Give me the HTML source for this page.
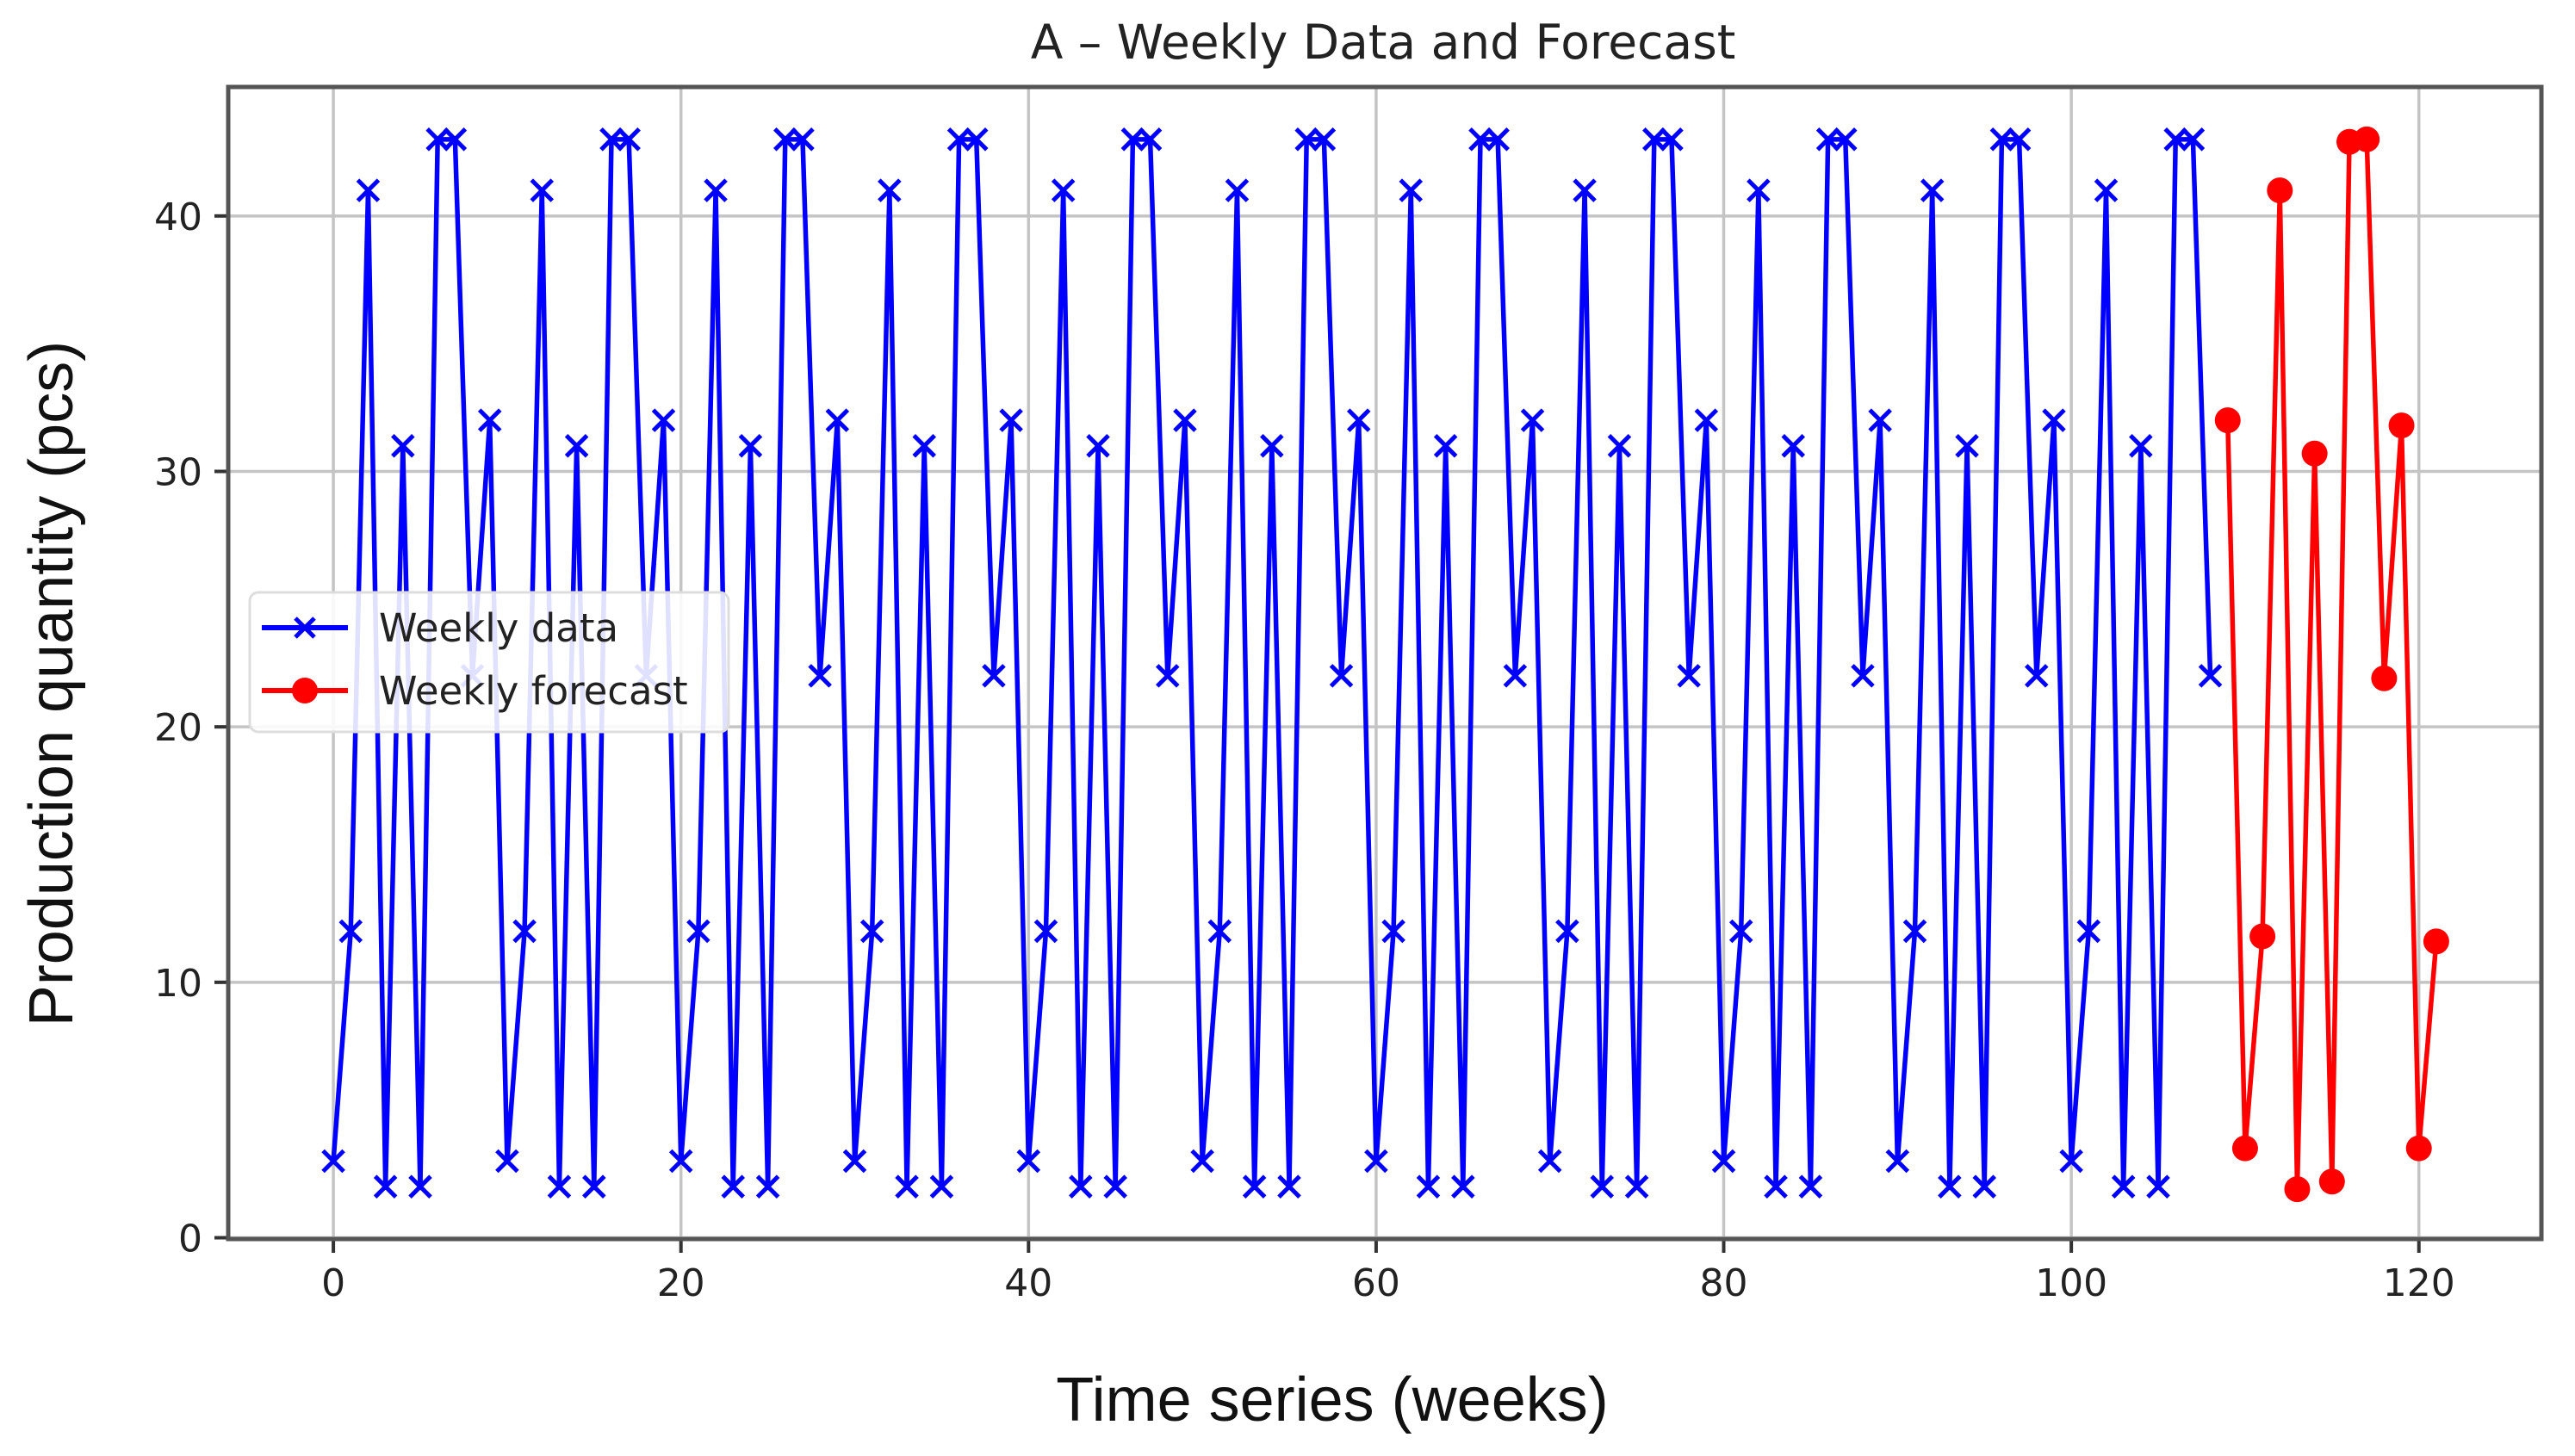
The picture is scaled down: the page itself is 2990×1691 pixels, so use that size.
<!DOCTYPE html>
<html><head><meta charset="utf-8"><style>
html,body{margin:0;padding:0;background:#fff;}
svg{display:block;}
</style></head><body>
<svg id="chart" width="2990" height="1691" viewBox="0 0 2990 1691" xmlns="http://www.w3.org/2000/svg">
<rect x="0" y="0" width="2990" height="1691" fill="#fff"/>
<g id="grid"></g>
<g id="series"></g>
<g id="axes"></g>
<text x="1606" y="68" font-family="DejaVu Sans, sans-serif" font-size="55" text-anchor="middle" fill="#222">A – Weekly Data and Forecast</text>
<text x="1547" y="1650" font-family="Liberation Sans, sans-serif" font-size="72" text-anchor="middle" fill="#111">Time series (weeks)</text>
<text transform="translate(84,794) rotate(-90)" font-family="Liberation Sans, sans-serif" font-size="72" text-anchor="middle" fill="#111">Production quantity (pcs)</text>
<g id="legend">
<rect x="290" y="688" width="556" height="162" rx="10" fill="#fff" fill-opacity="0.88" stroke="#ddd" stroke-width="3"/>
<g>
<line x1="304" y1="729" x2="404" y2="729" stroke="#0000ff" stroke-width="6"/>
<path d="M343 718 L365 740 M365 718 L343 740" stroke="#0000ff" stroke-width="5"/>
<text x="440" y="745" font-family="DejaVu Sans, sans-serif" font-size="45" fill="#222">Weekly data</text>
</g>
<g>
<line x1="304" y1="802" x2="404" y2="802" stroke="#ff0000" stroke-width="6"/>
<circle cx="354" cy="802" r="15" fill="#ff0000"/>
<text x="440" y="818" font-family="DejaVu Sans, sans-serif" font-size="45" fill="#222">Weekly forecast</text>
</g>
</g>
</svg>
<script>
const weeksData = [];
for (let i = 0; i <= 108; i++) weeksData.push(i);
const dataValues = [3,12,41,2,31,2,43,43,22,32, 3,12,41,2,31,2,43,43,22,32, 3,12,41,2,31,2,43,43,22,32, 3,12,41,2,31,2,43,43,22,32, 3,12,41,2,31,2,43,43,22,32, 3,12,41,2,31,2,43,43,22,32, 3,12,41,2,31,2,43,43,22,32, 3,12,41,2,31,2,43,43,22,32, 3,12,41,2,31,2,43,43,22,32, 3,12,41,2,31,2,43,43,22,32, 3,12,41,2,31,2,43,43,22];
const forecastWeeks = [109,110,111,112,113,114,115,116,117,118,119,120,121];
const forecastValues = [32,3.5,11.8,41,1.9,30.7,2.2,42.9,43,21.9,31.8,3.5,11.6];
const xTicks = [0,20,40,60,80,100,120];
const yTicks = [0,10,20,30,40];

const L=265,R=2951,T=101,B=1439;
const xMin=-6.05,xMax=127.05,yMin=-0.05,yMax=45.05;
const sx=v=>L+(v-xMin)/(xMax-xMin)*(R-L);
const sy=v=>B-(v-yMin)/(yMax-yMin)*(B-T);
const NS='http://www.w3.org/2000/svg';
function mk(tag,attrs,parent){const e=document.createElementNS(NS,tag);for(const k in attrs)e.setAttribute(k,attrs[k]);parent.appendChild(e);return e;}
const grid=document.getElementById('grid'),series=document.getElementById('series'),axes=document.getElementById('axes');

xTicks.forEach(t=>{
  const g=mk('line',{x1:sx(t),x2:sx(t),y1:T,y2:B,stroke:'#c4c4c4','stroke-width':3.5},grid);
  
  
  const tk=mk('line',{x1:sx(t),x2:sx(t),y1:B,y2:B+16,stroke:'#333','stroke-width':4},axes);
  
  
  const lb=mk('text',{x:sx(t),y:B+66,'font-family':'DejaVu Sans, sans-serif','font-size':44,'text-anchor':'middle',fill:'#222'},axes);
  lb.textContent=t;
  
  
});
yTicks.forEach(t=>{
  const g=mk('line',{x1:L,x2:R,y1:sy(t),y2:sy(t),stroke:'#c4c4c4','stroke-width':3.5},grid);
  
  
  const tk=mk('line',{x1:L-16,x2:L,y1:sy(t),y2:sy(t),stroke:'#333','stroke-width':4},axes);
  
  
  const lb=mk('text',{x:L-30,y:sy(t)+16,'font-family':'DejaVu Sans, sans-serif','font-size':44,'text-anchor':'end',fill:'#222'},axes);
  lb.textContent=t;
  
  
});
const frame=mk('rect',{x:L,y:T,width:R-L,height:B-T,fill:'none',stroke:'#555','stroke-width':5},axes);



const dpts=weeksData.map((w,i)=>sx(w)+','+sy(dataValues[i])).join(' ');
const dl=mk('polyline',{points:dpts,fill:'none',stroke:'#0000ff','stroke-width':5.5,'stroke-linejoin':'round'},series);


weeksData.forEach((w,i)=>{
  const x=sx(w),y=sy(dataValues[i]),s=12;
  const m=mk('path',{d:`M${x-s} ${y-s} L${x+s} ${y+s} M${x+s} ${y-s} L${x-s} ${y+s}`,stroke:'#0000ff','stroke-width':5},series);
  
  
});
const fpts=forecastWeeks.map((w,i)=>sx(w)+','+sy(forecastValues[i])).join(' ');
const fl=mk('polyline',{points:fpts,fill:'none',stroke:'#ff0000','stroke-width':5.5,'stroke-linejoin':'round'},series);


forecastWeeks.forEach((w,i)=>{
  const c=mk('circle',{cx:sx(w),cy:sy(forecastValues[i]),r:15,fill:'#ff0000'},series);
  
  
});
</script>
</body></html>
